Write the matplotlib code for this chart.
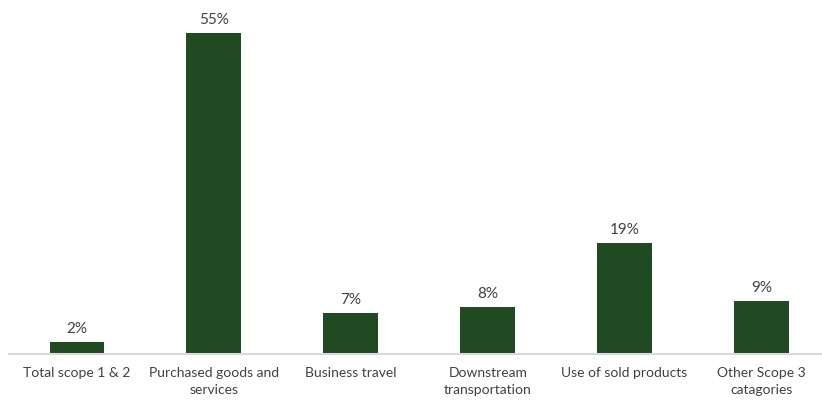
import matplotlib
matplotlib.use("Agg")
import matplotlib.pyplot as plt

categories = ["Total scope 1 & 2", "Purchased goods and\nservices", "Business travel",
              "Downstream\ntransportation", "Use of sold products", "Other Scope 3\ncatagories"]
values = [2, 55, 7, 8, 19, 9]
labels = ["2%", "55%", "7%", "8%", "19%", "9%"]

plt.rcParams['font.family'] = ['Lato', 'DejaVu Sans']
fig = plt.figure(figsize=(8.22, 4.02), dpi=100)
ax = fig.add_axes([8.5/822, 47/402, (822-8.5)/822, 355/402])
x = list(range(len(categories)))
ax.bar(x, values, width=0.4, color="#1f4a22", zorder=2)
for xi, v, l in zip(x, values, labels):
    ax.annotate(l, (xi, v), xytext=(0, 5), textcoords="offset points",
                ha="center", va="bottom", fontsize=11, color="#404040")
ax.set_xlim(-0.5, 5.5 - (830-822)/137)
ax.set_ylim(0, 355/5.84)
ax.set_xticks(x)
ax.set_xticklabels(categories, fontsize=10, color="#404040", linespacing=1.45)
ax.tick_params(axis="x", length=0, pad=9)
ax.set_yticks([])
for s in ["top", "left", "right"]:
    ax.spines[s].set_visible(False)
ax.spines["bottom"].set_color("#d9d9d9")
ax.spines["bottom"].set_linewidth(1.5)
fig.savefig("out.png", dpi=100)
